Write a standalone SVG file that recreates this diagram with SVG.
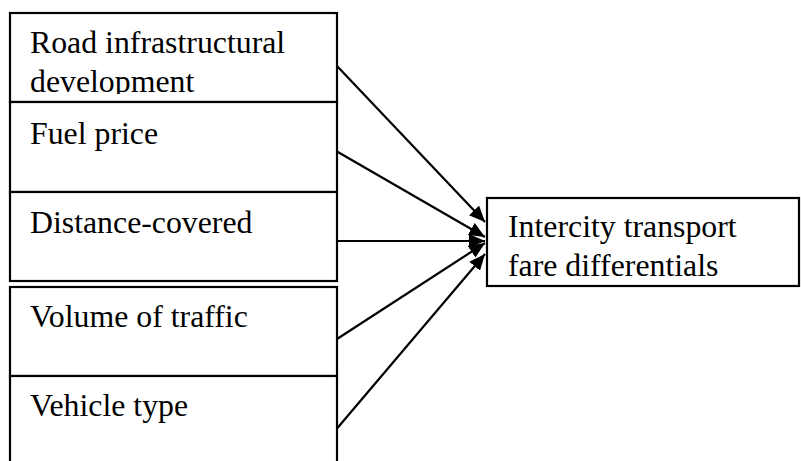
<svg xmlns="http://www.w3.org/2000/svg" width="801" height="461" viewBox="0 0 801 461">
<style>
.box{fill:#fff;stroke:#000;stroke-width:2.2}
.t{font-family:"Liberation Serif","Times New Roman",serif;font-size:31.8px;fill:#000}
.c{stroke:#000;stroke-width:2.2;fill:none;marker-end:url(#ah)}
</style>
<defs>
<marker id="ah" markerUnits="userSpaceOnUse" markerWidth="18" markerHeight="14" refX="16" refY="7" orient="auto">
<path d="M0,0 L16,7 L0,14 z" fill="#000"/>
</marker>
<clipPath id="clip1"><rect x="10" y="13" width="327" height="81"/></clipPath>
</defs>
<rect width="801" height="461" fill="#fff"/>
<g id="n1">
<rect class="box" x="10" y="13" width="327" height="89"/>
<g clip-path="url(#clip1)">
<text class="t" x="30" y="53">Road infrastructural</text>
<text class="t" x="30" y="91.5">development</text>
</g>
</g>
<g id="n2">
<rect class="box" x="10" y="102" width="327" height="90"/>
<text class="t" x="30" y="144">Fuel price</text>
</g>
<g id="n3">
<rect class="box" x="10" y="192" width="327" height="89"/>
<text class="t" x="30" y="232.5">Distance-covered</text>
</g>
<g id="n4">
<rect class="box" x="10" y="287" width="327" height="89"/>
<text class="t" x="30" y="327">Volume of traffic</text>
</g>
<g id="n5">
<rect class="box" x="10" y="376" width="327" height="100"/>
<text class="t" x="30" y="416">Vehicle type</text>
</g>
<g id="n6">
<rect class="box" x="487" y="198" width="312" height="88"/>
<text class="t" x="508" y="237">Intercity transport</text>
<text class="t" x="508" y="276">fare differentials</text>
</g>
<g id="connectors">
<line class="c" x1="337" y1="66" x2="485" y2="222"/>
<line class="c" x1="337" y1="151.5" x2="485" y2="237"/>
<line class="c" x1="337" y1="241" x2="485" y2="241"/>
<line class="c" x1="337" y1="339" x2="485" y2="243"/>
<line class="c" x1="337" y1="428.5" x2="485" y2="254"/>
</g>
</svg>
